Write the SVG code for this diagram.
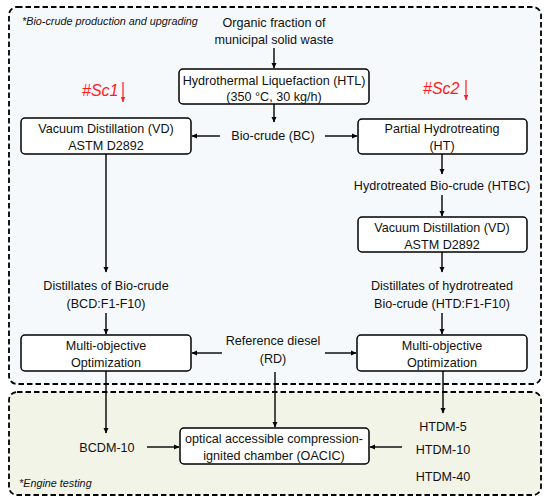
<svg xmlns="http://www.w3.org/2000/svg" width="550" height="503" viewBox="0 0 550 503">
<defs>
<marker id="ah" markerWidth="6" markerHeight="6" refX="5" refY="3" orient="auto" markerUnits="userSpaceOnUse">
<path d="M0,0.5 L5.5,3 L0,5.5 Z" fill="#000"/>
</marker>
<marker id="ahr" markerWidth="6" markerHeight="6" refX="5" refY="3" orient="auto" markerUnits="userSpaceOnUse">
<path d="M0,0.8 L5,3 L0,5.2 Z" fill="#ff1a1a"/>
</marker>
<style>
text{font-family:"Liberation Sans",Arial,sans-serif;font-size:12.6px;fill:#111;text-anchor:middle}
.it{font-style:italic;font-size:10.8px;text-anchor:start}
.sc{font-style:italic;font-size:16px;fill:#ff1a1a;text-anchor:start}
.box{fill:#fff;stroke:#000;stroke-width:1.5}
.frame{stroke:#000;stroke-width:1.8;stroke-dasharray:5.5,3}
.c line{stroke:#000;stroke-width:1.4;marker-end:url(#ah)}
.r{stroke:#ff1a1a;stroke-width:1.2;marker-end:url(#ahr)}
</style>
</defs>
<rect width="550" height="503" fill="#fff"/>
<rect class="frame" x="9" y="7" width="532" height="377" rx="8" fill="#f5f9fc"/>
<rect class="frame" x="9" y="392" width="532" height="103" rx="8" fill="#f3f4e8"/>
<text class="it" x="22" y="25">*Bio-crude production and upgrading</text>
<text class="it" x="19" y="487">*Engine testing</text>

<g id="sc1"><text class="sc" x="82" y="96">#Sc1</text><line class="r" x1="123" y1="82" x2="123" y2="102"/></g>
<g id="sc2"><text class="sc" x="423" y="94">#Sc2</text><line class="r" x1="466" y1="80" x2="466" y2="100"/></g>

<g id="msw"><text x="274" y="27">Organic fraction of</text><text x="274" y="44">municipal solid waste</text></g>
<g id="htl"><rect class="box" x="179" y="69" width="190" height="35" rx="4"/><text x="274" y="85">Hydrothermal Liquefaction (HTL)</text><text x="274" y="101">(350 °C, 30 kg/h)</text></g>
<g id="bc"><text x="273" y="140">Bio-crude (BC)</text></g>
<g id="vd1"><rect class="box" x="21" y="118" width="170" height="36" rx="4"/><text x="106" y="133">Vacuum Distillation (VD)</text><text x="106" y="150">ASTM D2892</text></g>
<g id="ht"><rect class="box" x="358" y="119" width="169" height="35" rx="4"/><text x="442" y="133">Partial Hydrotreating</text><text x="442" y="150">(HT)</text></g>
<g id="htbc"><text x="442" y="190">Hydrotreated Bio-crude (HTBC)</text></g>
<g id="vd2"><rect class="box" x="358" y="217" width="169" height="35" rx="4"/><text x="442" y="232">Vacuum Distillation (VD)</text><text x="442" y="249">ASTM D2892</text></g>
<g id="htd"><text x="442" y="290">Distillates of hydrotreated</text><text x="442" y="308">Bio-crude (HTD:F1-F10)</text></g>
<g id="bcd"><text x="106" y="290">Distillates of Bio-crude</text><text x="106" y="308">(BCD:F1-F10)</text></g>
<g id="moo1"><rect class="box" x="21" y="335" width="170" height="36" rx="4"/><text x="106" y="350">Multi-objective</text><text x="106" y="367">Optimization</text></g>
<g id="moo2"><rect class="box" x="357" y="335" width="170" height="36" rx="4"/><text x="442" y="350">Multi-objective</text><text x="442" y="367">Optimization</text></g>
<g id="rd"><text x="273" y="345">Reference diesel</text><text x="273" y="363">(RD)</text></g>
<g id="oacic"><rect class="box" x="180" y="428" width="189" height="36" rx="4"/><text x="274" y="443">optical accessible compression-</text><text x="274" y="460">ignited chamber (OACIC)</text></g>
<g id="bcdm"><text x="107" y="452">BCDM-10</text></g>
<g id="htdm"><text x="443" y="431">HTDM-5</text><text x="443" y="454">HTDM-10</text><text x="443" y="481">HTDM-40</text></g>

<g id="connectors" class="c">
<line x1="274" y1="48" x2="274" y2="68"/>
<line x1="274" y1="104" x2="274" y2="122"/>
<line x1="220" y1="136" x2="192" y2="136"/>
<line x1="325" y1="136" x2="357" y2="136"/>
<line x1="442" y1="154" x2="442" y2="174"/>
<line x1="442" y1="195" x2="442" y2="216"/>
<line x1="442" y1="252" x2="442" y2="272"/>
<line x1="442" y1="313" x2="442" y2="334"/>
<line x1="106" y1="154" x2="106" y2="272"/>
<line x1="106" y1="313" x2="106" y2="334"/>
<line x1="222" y1="353" x2="192" y2="353"/>
<line x1="325" y1="353" x2="356" y2="353"/>
<line x1="275" y1="372" x2="275" y2="427"/>
<line x1="106" y1="371" x2="106" y2="433"/>
<line x1="443" y1="371" x2="443" y2="413"/>
<line x1="147" y1="447" x2="179" y2="447"/>
<line x1="402" y1="447" x2="370" y2="447"/>
</g>
</svg>
